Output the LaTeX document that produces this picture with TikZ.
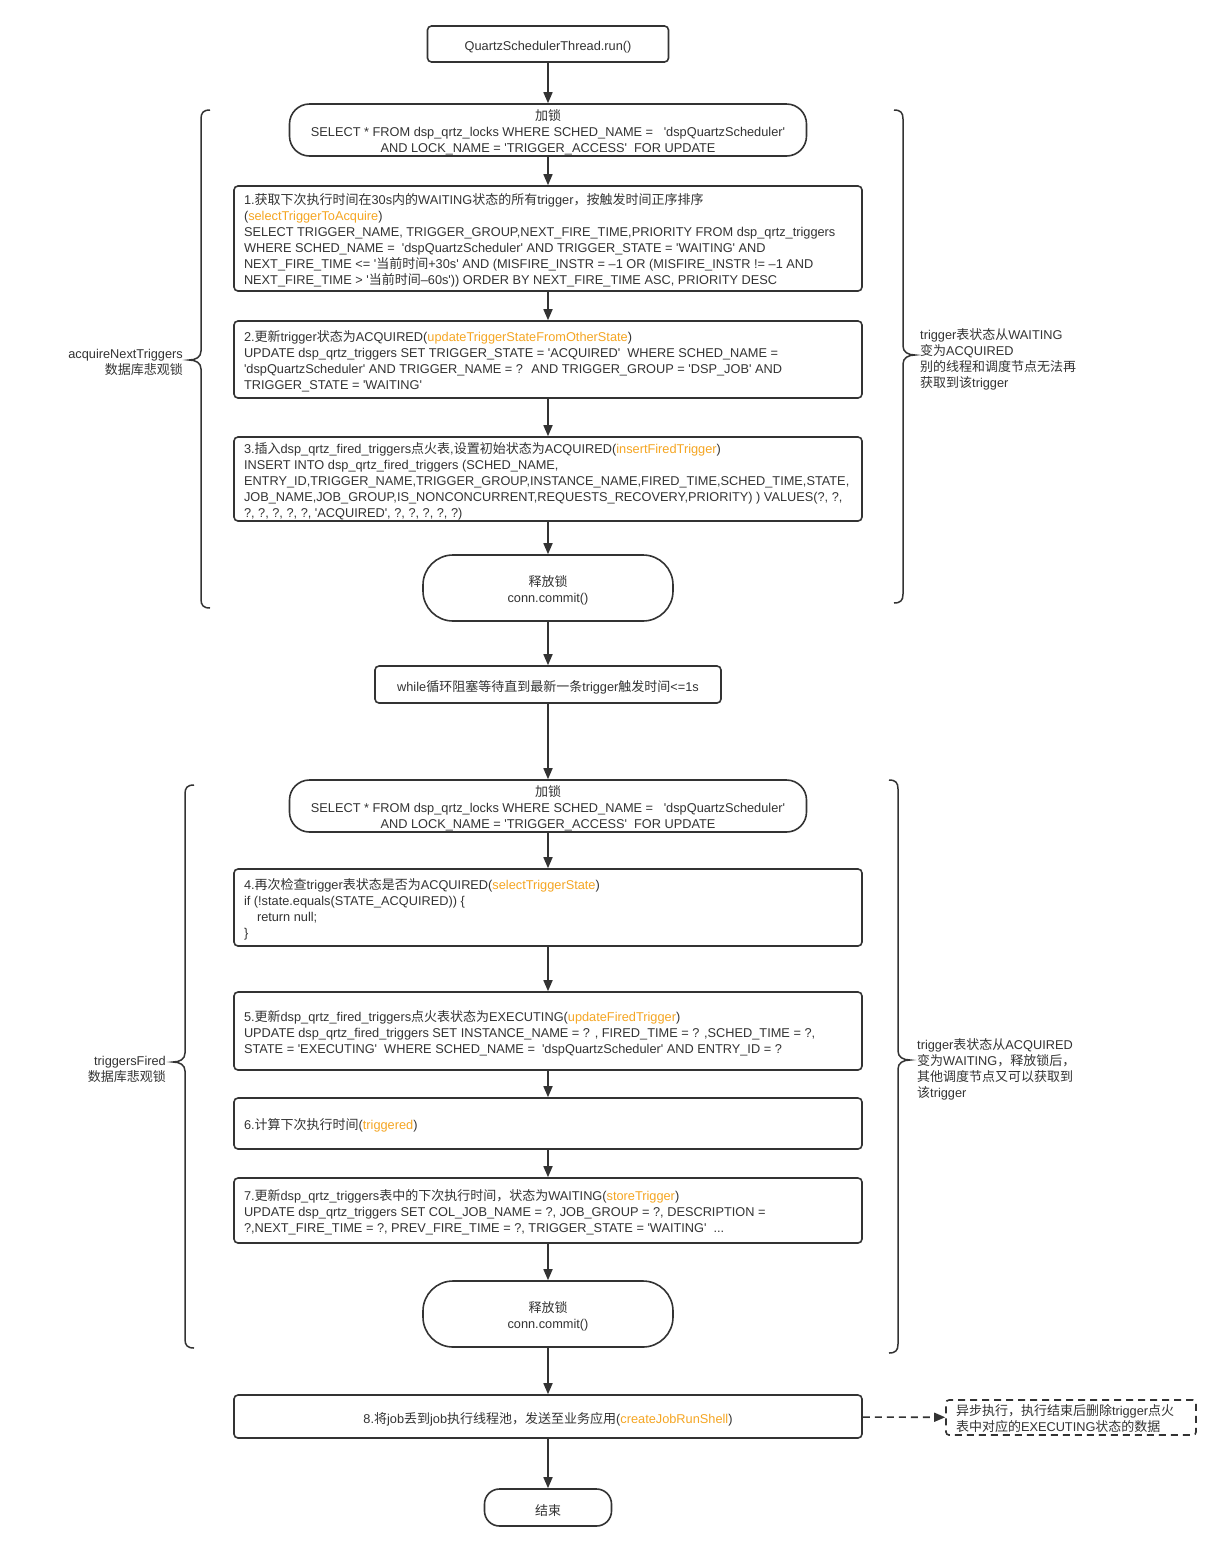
\documentclass[tikz,border=0pt]{standalone}
\usepackage{fontspec}
\setmainfont{Liberation Sans}[Ligatures=TeXOff,Scale=0.982]
\newfontfamily\cjkfont{Noto Sans CJK SC}
\usetikzlibrary{arrows.meta}
\definecolor{ink}{HTML}{333333}
\definecolor{fncol}{HTML}{F5A623}
\newcommand\zh[1]{{\cjkfont #1}}
\newcommand\fnc[1]{\textcolor{fncol}{#1}}
\newcommand\dn[1]{\raisebox{-3pt}[\height][\depth]{#1}}
\newcommand\boxlines[2]{\dn{\makebox[#1][l]{\begin{tabular}{@{}l@{}}#2\end{tabular}}}}
\newcommand\cboxlines[1]{\dn{\begin{tabular}{@{}c@{}}#1\end{tabular}}}
\newcommand\sidebrace[5]{%
  \draw[bracestyle] ({#1+9*(#5)},#2) .. controls ({#1+2*(#5)},#2) and (#1,#2+3) .. (#1,#2+9)
    -- (#1,#3-9) .. controls (#1,#3-3) and ({#1-5*(#5)},#3) .. ({#1-12*(#5)},#3)
    .. controls ({#1-5*(#5)},#3) and (#1,#3+3) .. (#1,#3+9)
    -- (#1,#4-9) .. controls (#1,#4-3) and ({#1+2*(#5)},#4) .. ({#1+9*(#5)},#4);}
\tikzset{
  every node/.style={font=\fontsize{13}{16}\selectfont, text=ink},
  stepbox/.style={draw=ink, line width=1.6pt, rounded corners=4pt, minimum width=628pt, inner xsep=10pt, inner ysep=0pt},
  lockbox/.style={draw=ink, line width=1.6pt, rounded corners=20pt, minimum width=517pt, minimum height=52pt, inner sep=0pt},
  relbox/.style={draw=ink, line width=1.6pt, rounded corners=30pt, minimum width=250pt, minimum height=66pt, inner sep=0pt},
  plainbox/.style={draw=ink, line width=1.6pt, rounded corners=4pt, inner sep=0pt},
  flow/.style={draw=ink, line width=1.6pt, -{Triangle[length=11pt,width=9pt]}},
  bracestyle/.style={draw=ink, line width=1.5pt},
}
\begin{document}
\begin{tikzpicture}[x=1pt,y=-1pt]
\fill[white] (0,0) rectangle (1221,1551);
\useasboundingbox (0,0) rectangle (1221,1551);

\node[plainbox, minimum width=241pt, minimum height=36pt] (top) at (548,44) {\dn{QuartzSchedulerThread.run()}};

\node[lockbox] (lock1) at (548,130) {\cboxlines{\zh{加锁}\\SELECT * FROM dsp\_qrtz\_locks WHERE SCHED\_NAME = \ \ 'dspQuartzScheduler'\\AND LOCK\_NAME = 'TRIGGER\_ACCESS' \ FOR UPDATE}};

\node[stepbox, minimum height=105pt] (b1) at (548,238.5) {\boxlines{608pt}{%
1.\zh{获取下次执行时间在}30s\zh{内的}WAITING\zh{状态的所有}trigger\zh{，按触发时间正序排序}\\
(\fnc{selectTriggerToAcquire})\\
SELECT TRIGGER\_NAME, TRIGGER\_GROUP,NEXT\_FIRE\_TIME,PRIORITY FROM dsp\_qrtz\_triggers\\
WHERE SCHED\_NAME = \ 'dspQuartzScheduler' AND TRIGGER\_STATE = 'WAITING' AND\\
NEXT\_FIRE\_TIME <= '\zh{当前时间}+30s' AND (MISFIRE\_INSTR = –1 OR (MISFIRE\_INSTR != –1 AND\\
NEXT\_FIRE\_TIME > '\zh{当前时间}–60s')) ORDER BY NEXT\_FIRE\_TIME ASC, PRIORITY DESC}};

\node[stepbox, minimum height=77pt] (b2) at (548,359.5) {\boxlines{608pt}{%
2.\zh{更新}trigger\zh{状态为}ACQUIRED(\fnc{updateTriggerStateFromOtherState})\\
UPDATE dsp\_qrtz\_triggers SET TRIGGER\_STATE = 'ACQUIRED' \ WHERE SCHED\_NAME =\\
'dspQuartzScheduler' AND TRIGGER\_NAME = ? \ AND TRIGGER\_GROUP = 'DSP\_JOB' AND\\
TRIGGER\_STATE = 'WAITING'}};

\node[stepbox, minimum height=84pt] (b3) at (548,479) {\boxlines{608pt}{%
3.\zh{插入}dsp\_qrtz\_fired\_triggers\zh{点火表},\zh{设置初始状态为}ACQUIRED(\fnc{insertFiredTrigger})\\
INSERT INTO dsp\_qrtz\_fired\_triggers (SCHED\_NAME,\\
ENTRY\_ID,TRIGGER\_NAME,TRIGGER\_GROUP,INSTANCE\_NAME,FIRED\_TIME,SCHED\_TIME,STATE,\\
JOB\_NAME,JOB\_GROUP,IS\_NONCONCURRENT,REQUESTS\_RECOVERY,PRIORITY) ) VALUES(?, ?,\\
?, ?, ?, ?, ?, 'ACQUIRED', ?, ?, ?, ?, ?)}};

\node[relbox] (rel1) at (548,588) {\cboxlines{\zh{释放锁}\\conn.commit()}};

\node[plainbox, minimum width=346pt, minimum height=37pt] (wait) at (548,684.5) {\dn{while\zh{循环阻塞等待直到最新一条}trigger\zh{触发时间}<=1s}};

\node[lockbox] (lock2) at (548,806) {\cboxlines{\zh{加锁}\\SELECT * FROM dsp\_qrtz\_locks WHERE SCHED\_NAME = \ \ 'dspQuartzScheduler'\\AND LOCK\_NAME = 'TRIGGER\_ACCESS' \ FOR UPDATE}};

\node[stepbox, minimum height=77pt] (b4) at (548,907.5) {\boxlines{608pt}{%
4.\zh{再次检查}trigger\zh{表状态是否为}ACQUIRED(\fnc{selectTriggerState})\\
if (!state.equals(STATE\_ACQUIRED)) \{\\
\hspace*{13pt}return null;\\
\}}};

\node[stepbox, minimum height=78pt] (b5) at (548,1031) {\boxlines{608pt}{%
5.\zh{更新}dsp\_qrtz\_fired\_triggers\zh{点火表状态为}EXECUTING(\fnc{updateFiredTrigger})\\
UPDATE dsp\_qrtz\_fired\_triggers SET INSTANCE\_NAME = ? , FIRED\_TIME = ? ,SCHED\_TIME = ?,\\
STATE = 'EXECUTING' \ WHERE SCHED\_NAME = \ 'dspQuartzScheduler' AND ENTRY\_ID = ?}};

\node[stepbox, minimum height=51pt] (b6) at (548,1123.5) {\boxlines{608pt}{%
6.\zh{计算下次执行时间}(\fnc{triggered})}};

\node[stepbox, minimum height=65pt] (b7) at (548,1210.5) {\boxlines{608pt}{%
7.\zh{更新}dsp\_qrtz\_triggers\zh{表中的下次执行时间，状态为}WAITING(\fnc{storeTrigger})\\
UPDATE dsp\_qrtz\_triggers SET COL\_JOB\_NAME = ?, JOB\_GROUP = ?, DESCRIPTION =\\
?,NEXT\_FIRE\_TIME = ?, PREV\_FIRE\_TIME = ?, TRIGGER\_STATE = 'WAITING' \ ...}};

\node[relbox] (rel2) at (548,1314) {\cboxlines{\zh{释放锁}\\conn.commit()}};

\node[stepbox, minimum height=43pt] (b8) at (548,1416.5) {\dn{8.\zh{将}job\zh{丢到}job\zh{执行线程池，发送至业务应用}(\fnc{createJobRunShell})}};

\node[draw=ink, line width=1.6pt, dash pattern=on 7pt off 5pt, rounded corners=3pt, minimum width=250pt, minimum height=35pt, inner xsep=10pt, inner ysep=0pt] (async) at (1071,1417.5) {\boxlines{230pt}{%
\zh{异步执行，执行结束后删除}trigger\zh{点火}\\
\zh{表中对应的}EXECUTING\zh{状态的数据}}};

\node[plainbox, rounded corners=15pt, minimum width=127pt, minimum height=37pt] (finish) at (548,1507.5) {\dn{\zh{结束}}};

% connectors
\draw[flow] (top) -- (lock1);
\draw[flow] (lock1) -- (b1);
\draw[flow] (b1) -- (b2);
\draw[flow] (b2) -- (b3);
\draw[flow] (b3) -- (rel1);
\draw[flow] (rel1) -- (wait);
\draw[flow] (wait) -- (lock2);
\draw[flow] (lock2) -- (b4);
\draw[flow] (b4) -- (b5);
\draw[flow] (b5) -- (b6);
\draw[flow] (b6) -- (b7);
\draw[flow] (b7) -- (rel2);
\draw[flow] (rel2) -- (b8);
\draw[flow] (b8) -- (finish);
\draw[flow, dash pattern=on 7pt off 5pt] (b8) -- (async);

% braces
\sidebrace{201}{110}{360}{608}{1}
\sidebrace{903}{110}{355}{603}{-1}
\sidebrace{185}{785}{1062}{1348}{1}
\sidebrace{898}{780}{1060}{1353}{-1}

% side labels
\node[anchor=east, align=right, inner sep=0pt] (lab1) at (183,362) {acquireNextTriggers\\\zh{数据库悲观锁}};
\node[anchor=west, align=left, inner sep=0pt] (lab2) at (920,359) {trigger\zh{表状态从}WAITING\\\zh{变为}ACQUIRED\\\zh{别的线程和调度节点无法再}\\\zh{获取到该}trigger};
\node[anchor=east, align=right, inner sep=0pt] (lab3) at (166,1069) {triggersFired\\\zh{数据库悲观锁}};
\node[anchor=west, align=left, inner sep=0pt] (lab4) at (917,1069) {trigger\zh{表状态从}ACQUIRED\\\zh{变为}WAITING\zh{，释放锁后，}\\\zh{其他调度节点又可以获取到}\\\zh{该}trigger};
\end{tikzpicture}
\end{document}
